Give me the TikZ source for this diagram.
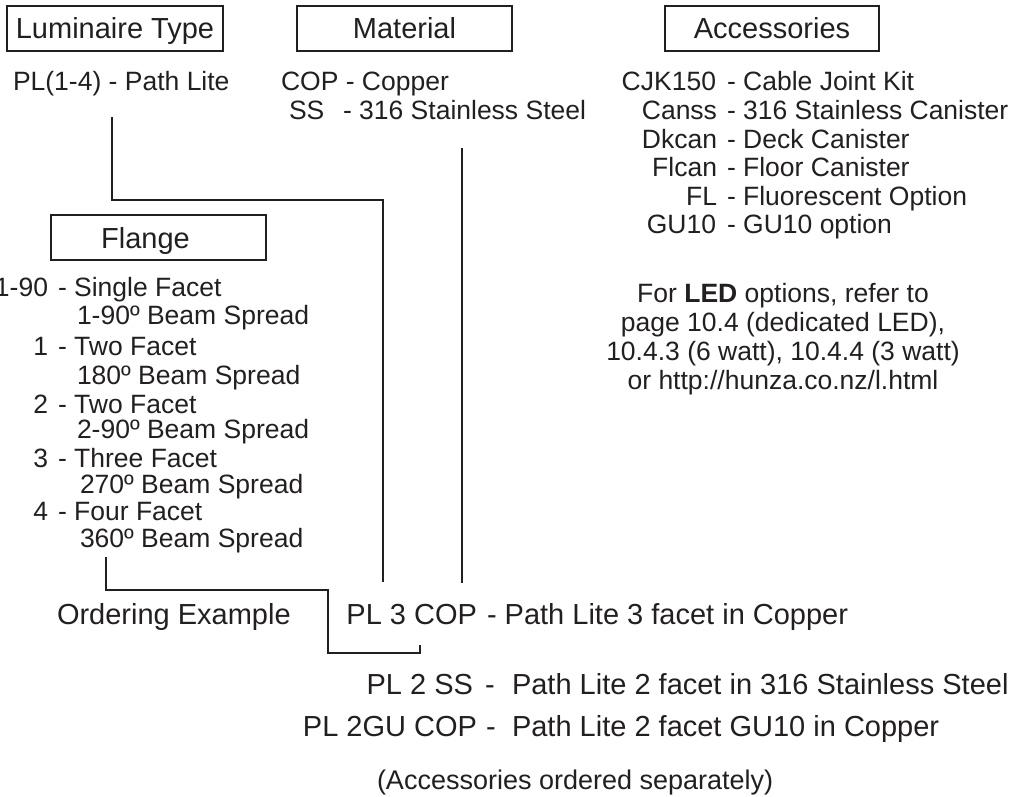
\documentclass[tikz,border=0pt]{standalone}
\usepackage{fontspec}
\setmainfont{Liberation Sans}
\definecolor{ink}{RGB}{35,31,32}
\newcommand\fsBody{\fontsize{26.5}{28}\selectfont}
\newcommand\fsTitle{\fontsize{29}{31}\selectfont}
\newcommand\fsNote{\fontsize{27}{29}\selectfont}
\begin{document}
\begin{tikzpicture}[x=1pt,y=-1pt,
  every node/.style={inner sep=0pt,outer sep=0pt,text=ink},
  titlebox/.style={draw=ink,line width=1.4pt,minimum height=45pt,font=\fsTitle,text height=21pt,text depth=0pt},
  titletext/.style={font=\fsTitle,text height=21pt,text depth=0pt},
  bodyw/.style={font=\fsBody,anchor=base west},
  bodye/.style={font=\fsBody,anchor=base east},
  bodyc/.style={font=\fsBody,anchor=base},
  bigw/.style={font=\fsTitle,anchor=base west},
  bige/.style={font=\fsTitle,anchor=base east},
  conn/.style={draw=ink,line width=1.1pt}]
\useasboundingbox (0,0) rectangle (1025,797);

% title boxes
\node[titlebox,minimum width=216pt] (lum) at (115,28.5) {Luminaire Type};
\node[titlebox,minimum width=215pt] (mat) at (404.5,28.5) {Material};
\node[titlebox,minimum width=214pt] (acc) at (772,28.5) {Accessories};
\node[titlebox,minimum width=215pt] (fla) at (158.5,237.5) {};
\node[titletext] (flat) at (145.5,237.5) {Flange};

% luminaire type
\node[bodyw] (pl) at (13,91) {PL(1-4) - Path Lite};

% material
\node[bodyw] (cop) at (281,91) {COP - Copper};
\node[bodyw] (ssc) at (289,120) {SS};
\node[bodyw] (ssd) at (343,120) {- 316 Stainless Steel};

% accessories
\node[bodye] (k1) at (716,91) {CJK150};
\node[bodyw] (d1) at (727,91) {- Cable Joint Kit};
\node[bodye] (k2) at (717,119.5) {Canss};
\node[bodyw] (d2) at (727,119.5) {- 316 Stainless Canister};
\node[bodye] (k3) at (717,148) {Dkcan};
\node[bodyw] (d3) at (727,148) {- Deck Canister};
\node[bodye] (k4) at (717,176.5) {Flcan};
\node[bodyw] (d4) at (727,176.5) {- Floor Canister};
\node[bodye] (k5) at (717,205) {FL};
\node[bodyw] (d5) at (727,205) {- Fluorescent Option};
\node[bodye] (k6) at (716,233.5) {GU10};
\node[bodyw] (d6) at (727,233.5) {- GU10 option};

% LED note
\node[bodyc] (led1) at (783,302) {For \textbf{LED} options, refer to};
\node[bodyc] (led2) at (783,331) {page 10.4 (dedicated LED),};
\node[bodyc] (led3) at (783,360) {10.4.3 (6 watt), 10.4.4 (3 watt)};
\node[bodyc] (led4) at (783,389) {or http://hunza.co.nz/l.html};

% flange list
\node[bodye] (f1) at (48,296) {1-90};
\node[bodyw] (g1) at (58,296) {- Single Facet};
\node[bodyw] (h1) at (77,324) {1-90º Beam Spread};
\node[bodye] (f2) at (48,355) {1};
\node[bodyw] (g2) at (58,355) {- Two Facet};
\node[bodyw] (h2) at (77,384) {180º Beam Spread};
\node[bodye] (f3) at (48,413) {2};
\node[bodyw] (g3) at (58,413) {- Two Facet};
\node[bodyw] (h3) at (77,438) {2-90º Beam Spread};
\node[bodye] (f4) at (48,467) {3};
\node[bodyw] (g4) at (58,467) {- Three Facet};
\node[bodyw] (h4) at (80,493) {270º Beam Spread};
\node[bodye] (f5) at (48,520) {4};
\node[bodyw] (g5) at (58,520) {- Four Facet};
\node[bodyw] (h5) at (80,547) {360º Beam Spread};

% ordering example
\node[bigw] (ord) at (57,624) {Ordering Example};
\node[bige] (e1) at (477,624) {PL 3 COP};
\node[bigw] (e1d) at (487,624) {- Path Lite 3 facet in Copper};
\node[bige] (e2) at (473,694) {PL 2 SS};
\node[bigw] (e2m) at (485,694) {-};
\node[bigw] (e2d) at (512,694) {Path Lite 2 facet in 316 Stainless Steel};
\node[bige] (e3) at (477,736) {PL 2GU COP};
\node[bigw] (e3m) at (486,736) {-};
\node[bigw] (e3d) at (512,736) {Path Lite 2 facet GU10 in Copper};
\node[font=\fsNote,anchor=base west] (sep) at (377,789) {(Accessories ordered separately)};

% connectors
\coordinate (a1) at (112,117);
\coordinate (a2) at (383,582);
\draw[conn] (a1) -- ++(0,83) -| (a2);
\coordinate (b1) at (462,148);
\coordinate (b2) at (462,583);
\draw[conn] (b1) -- (b2);
\coordinate (c1) at (106,557);
\coordinate (c2) at (328,653);
\draw[conn] (c1) -- ++(0,33) -| (c2) -- ++(92,0) -- ++(0,-8);
\end{tikzpicture}
\end{document}
